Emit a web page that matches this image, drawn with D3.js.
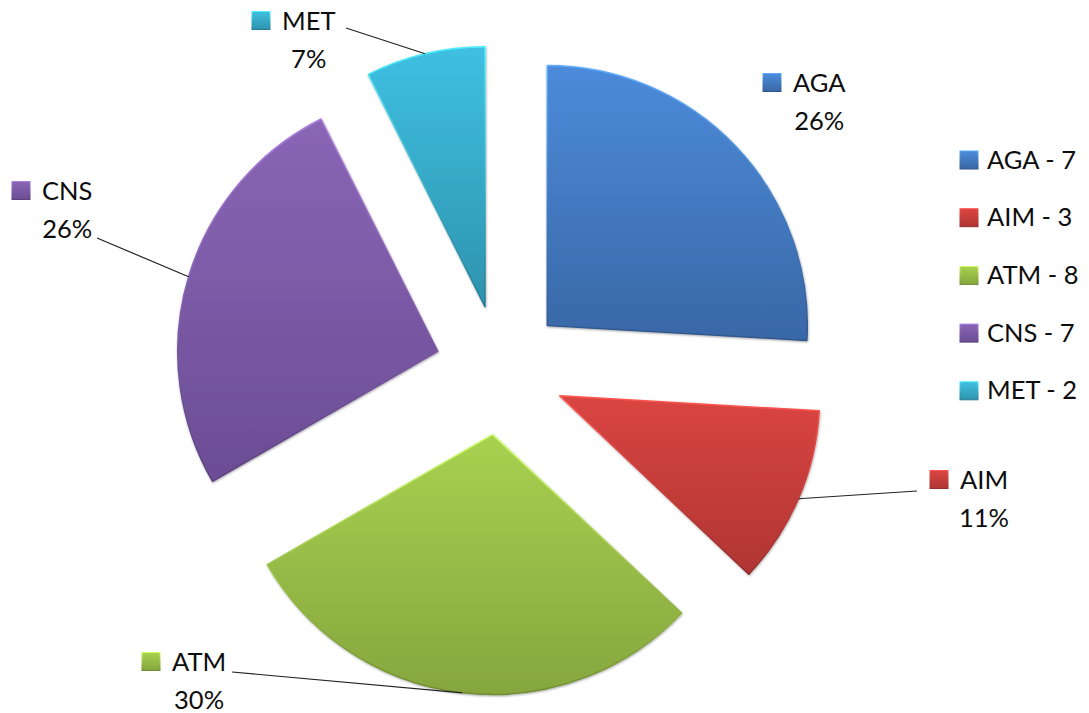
<!DOCTYPE html>
<html>
<head>
<meta charset="utf-8">
<script src="https://cdn.jsdelivr.net/npm/d3@7"></script>
<style>
  html, body { margin: 0; padding: 0; background: #fff; }
  svg { display: block; }
  text { font-family: Lato, "Open Sans", sans-serif; fill: #0d0d0d; }
</style>
</head>
<body>
<svg id="chart" width="1089" height="713"></svg>
<script>
// ---- data ----
const categories = ["AGA", "AIM", "ATM", "CNS", "MET"];
const values = [7, 3, 8, 7, 2];

// ---- styles / layout ----
const colorsTop = ["#4C8BDA", "#DA4541", "#A8D150", "#8A66B6", "#3FC0E2"];
const colorsBottom = ["#3967A6", "#B03533", "#86A63E", "#6B4D94", "#2E93AE"];
const center = { x: 500, y: 370 };
const radius = 260;
const explode = 65;
const fontSize = 25.5;
// label anchors: [x of name text, baseline of first line]
const labelAnchors = [[793, 92], [960, 489], [172, 671], [42, 200], [282, 30]];
// leader line start near label (null = no leader)
const leaderStarts = [null, [917, 491], [232, 672], [97, 238], [346, 28]];
const legendX = 960, legendY0 = 160, legendStep = 57.7;

const svg = d3.select("#chart");
const defs = svg.append("defs");
categories.forEach((c, i) => {
  const g = defs.append("linearGradient")
    .attr("id", "grad" + i).attr("x1", 0).attr("y1", 0).attr("x2", 0).attr("y2", 1);
  g.append("stop").attr("offset", "0%").attr("stop-color", colorsTop[i]);
  g.append("stop").attr("offset", "100%").attr("stop-color", colorsBottom[i]);
  const h = defs.append("linearGradient")
    .attr("id", "edge" + i).attr("x1", 0).attr("y1", 0).attr("x2", 0).attr("y2", 1);
  h.append("stop").attr("offset", "0%").attr("stop-color", d3.color(colorsTop[i]).brighter(0.6));
  h.append("stop").attr("offset", "100%").attr("stop-color", d3.color(colorsBottom[i]).darker(0.5));
});
const shadow = defs.append("filter").attr("id", "shadow")
  .attr("x", "-10%").attr("y", "-10%").attr("width", "120%").attr("height", "120%");
shadow.append("feDropShadow").attr("dx", 0.5).attr("dy", 1).attr("stdDeviation", 1)
  .attr("flood-color", "#000").attr("flood-opacity", 0.35);

const total = d3.sum(values);
const pie = d3.pie().sort(null).value(d => d)(values);
const arc = d3.arc().innerRadius(0).outerRadius(radius);

const slices = svg.append("g").attr("transform", `translate(${center.x},${center.y})`);
pie.forEach((p, i) => {
  const mid = (p.startAngle + p.endAngle) / 2;
  const dx = Math.sin(mid) * explode, dy = -Math.cos(mid) * explode;
  slices.append("path")
    .attr("d", arc(p))
    .attr("transform", `translate(${dx},${dy})`)
    .attr("fill", `url(#grad${i})`)
    .attr("stroke", `url(#edge${i})`)
    .attr("stroke-width", 1.5)
    .attr("stroke-linejoin", "round")
    .attr("filter", "url(#shadow)");
});

// leader lines
pie.forEach((p, i) => {
  if (!leaderStarts[i]) return;
  const mid = (p.startAngle + p.endAngle) / 2;
  const ex = center.x + Math.sin(mid) * (explode + radius);
  const ey = center.y - Math.cos(mid) * (explode + radius);
  svg.append("line")
    .attr("x1", leaderStarts[i][0]).attr("y1", leaderStarts[i][1])
    .attr("x2", ex).attr("y2", ey)
    .attr("stroke", "#222").attr("stroke-width", 1.2);
});

function square(g, x, y, i) {
  g.append("rect").attr("x", x).attr("y", y).attr("width", 18).attr("height", 18)
    .attr("fill", `url(#grad${i})`).attr("stroke", `url(#edge${i})`).attr("stroke-width", 1);
}

// data labels
const labels = svg.append("g");
categories.forEach((c, i) => {
  const [x, y] = labelAnchors[i];
  square(labels, x - 30, y - 18.5, i);
  const t = labels.append("text").attr("x", x).attr("y", y)
    .attr("font-size", fontSize).text(c);
  const w = t.node().getComputedTextLength();
  labels.append("text").attr("x", x + w / 2).attr("y", y + 38)
    .attr("text-anchor", "middle").attr("font-size", fontSize)
    .text(Math.round(values[i] / total * 100) + "%");
});

// legend
const legend = svg.append("g");
categories.forEach((c, i) => {
  const cy = legendY0 + i * legendStep;
  square(legend, legendX, cy - 9, i);
  legend.append("text").attr("x", legendX + 27).attr("y", cy + 8.5)
    .attr("font-size", fontSize).text(`${c} - ${values[i]}`);
});
</script>
</body>
</html>
